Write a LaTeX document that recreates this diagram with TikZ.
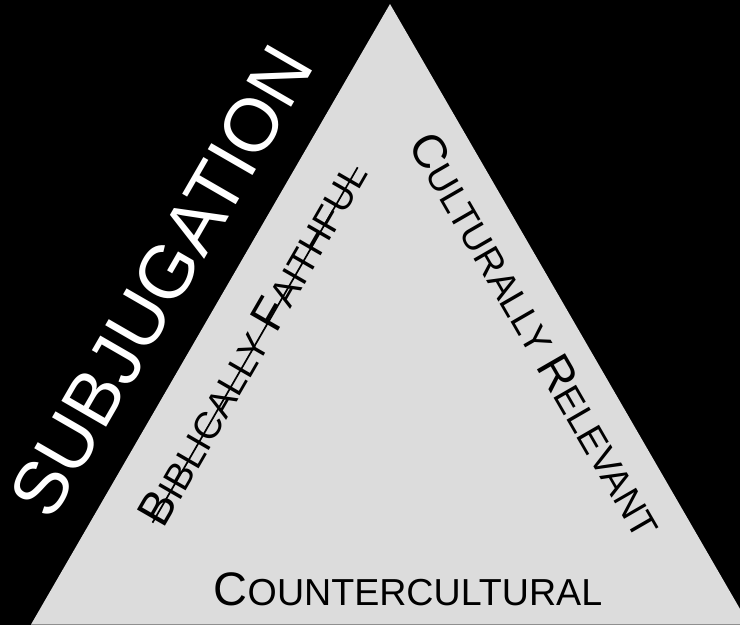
\documentclass[tikz,border=0pt]{standalone}
\usepackage{fontspec}
\setmainfont{Liberation Sans}
\usetikzlibrary{calc}
\definecolor{tri}{HTML}{DCDCDC}
\newcommand\capA{\fontsize{47}{47}\selectfont}
\newcommand\capB{\fontsize{37.6}{37.6}\selectfont}
\begin{document}
\begin{tikzpicture}[x=1pt,y=-1pt, lbl/.style={inner sep=0pt, outer sep=0pt, text=black}]
\path[fill=black,use as bounding box] (0,0) rectangle (740,625);
\begin{scope}
\clip (0,0) rectangle (740,625);
\fill[tri] (390,4) -- (31,624.5) -- (749,624.5) -- cycle;
\end{scope}
\node[lbl,text=white,rotate=60,font=\fontsize{75}{75}\selectfont] (sub) at (161.5,281.5) {SUBJUGATION};
\node[lbl,rotate=60] (bf) at (252.5,343.5) {\capA B\capB IBLICALLY \capA F\capB AITHFUL};
\draw[line width=1.7pt] ($(bf.west)!3pt!-90:(bf.east)$) -- ($(bf.east)!3pt!90:(bf.west)$);
\node[lbl,rotate=-60] (cr) at (536.5,335) {\capA C\capB ULTURALLY \capA R\capB ELEVANT};
\node[lbl] (cc) at (408,589.5) {\capA C\capB OUNTERCULTURAL};
\end{tikzpicture}
\end{document}
